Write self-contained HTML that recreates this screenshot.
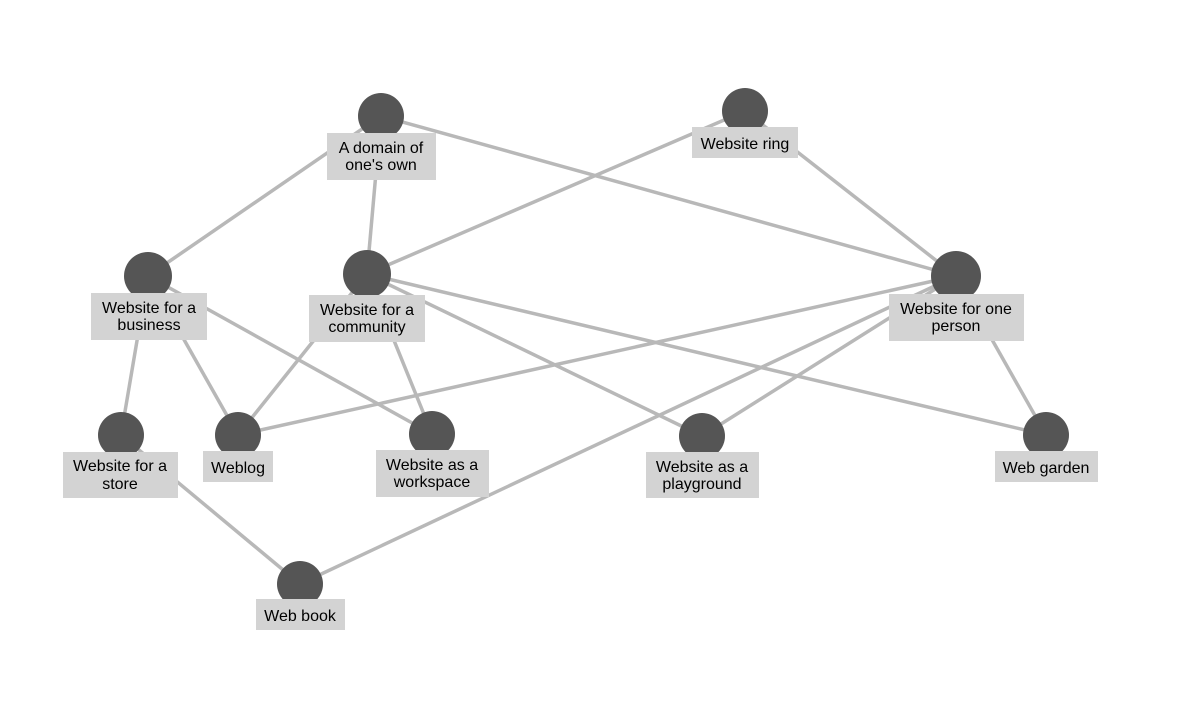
<!DOCTYPE html>
<html><head><meta charset="utf-8"><style>
html,body{margin:0;padding:0;background:#fff;}
svg{display:block;}
text{font-family:"Liberation Sans",Arial,sans-serif;font-size:16px;fill:#000;text-anchor:middle;}
</style></head><body>
<svg width="1200" height="713" viewBox="0 0 1200 713">
<g stroke="#b8b8b8" stroke-width="3.5" fill="none">
<line x1="381" y1="116" x2="148" y2="276"/>
<line x1="381" y1="116" x2="367" y2="274"/>
<line x1="381" y1="116" x2="956" y2="276"/>
<line x1="745" y1="111" x2="367" y2="274"/>
<line x1="745" y1="111" x2="956" y2="276"/>
<line x1="148" y1="276" x2="121" y2="435"/>
<line x1="148" y1="276" x2="238" y2="435"/>
<line x1="148" y1="276" x2="432" y2="434"/>
<line x1="367" y1="274" x2="238" y2="435"/>
<line x1="367" y1="274" x2="432" y2="434"/>
<line x1="367" y1="274" x2="702" y2="436"/>
<line x1="367" y1="274" x2="1046" y2="435"/>
<line x1="956" y1="276" x2="238" y2="435"/>
<line x1="956" y1="276" x2="702" y2="436"/>
<line x1="956" y1="276" x2="300" y2="584"/>
<line x1="956" y1="276" x2="1046" y2="435"/>
<line x1="121" y1="435" x2="300" y2="584"/>
</g>
<g fill="#555">
<circle cx="381" cy="116" r="23"/>
<circle cx="745" cy="111" r="23"/>
<circle cx="148" cy="276" r="24"/>
<circle cx="367" cy="274" r="24"/>
<circle cx="956" cy="276" r="25"/>
<circle cx="121" cy="435" r="23"/>
<circle cx="238" cy="435" r="23"/>
<circle cx="432" cy="434" r="23"/>
<circle cx="702" cy="436" r="23"/>
<circle cx="1046" cy="435" r="23"/>
<circle cx="300" cy="584" r="23"/>
</g>
<g fill="#d3d3d3">
<rect x="327" y="133" width="109" height="47"/>
<rect x="692" y="127" width="106" height="31"/>
<rect x="91" y="293" width="116" height="47"/>
<rect x="309" y="295" width="116" height="47"/>
<rect x="889" y="294" width="135" height="47"/>
<rect x="63" y="452" width="115" height="46"/>
<rect x="203" y="451" width="70" height="31"/>
<rect x="376" y="450" width="113" height="47"/>
<rect x="646" y="452" width="113" height="46"/>
<rect x="995" y="451" width="103" height="31"/>
<rect x="256" y="599" width="89" height="31"/>
</g>
<text x="381" y="153">A domain of</text><text x="381" y="170">one's own</text>
<text x="745" y="149">Website ring</text>
<text x="149" y="313">Website for a</text><text x="149" y="330">business</text>
<text x="367" y="315">Website for a</text><text x="367" y="332">community</text>
<text x="956" y="314">Website for one</text><text x="956" y="331">person</text>
<text x="120" y="471">Website for a</text><text x="120" y="489">store</text>
<text x="238" y="473">Weblog</text>
<text x="432" y="470">Website as a</text><text x="432" y="487">workspace</text>
<text x="702" y="472">Website as a</text><text x="702" y="489">playground</text>
<text x="1046" y="473">Web garden</text>
<text x="300" y="621">Web book</text>
</svg>
</body></html>
